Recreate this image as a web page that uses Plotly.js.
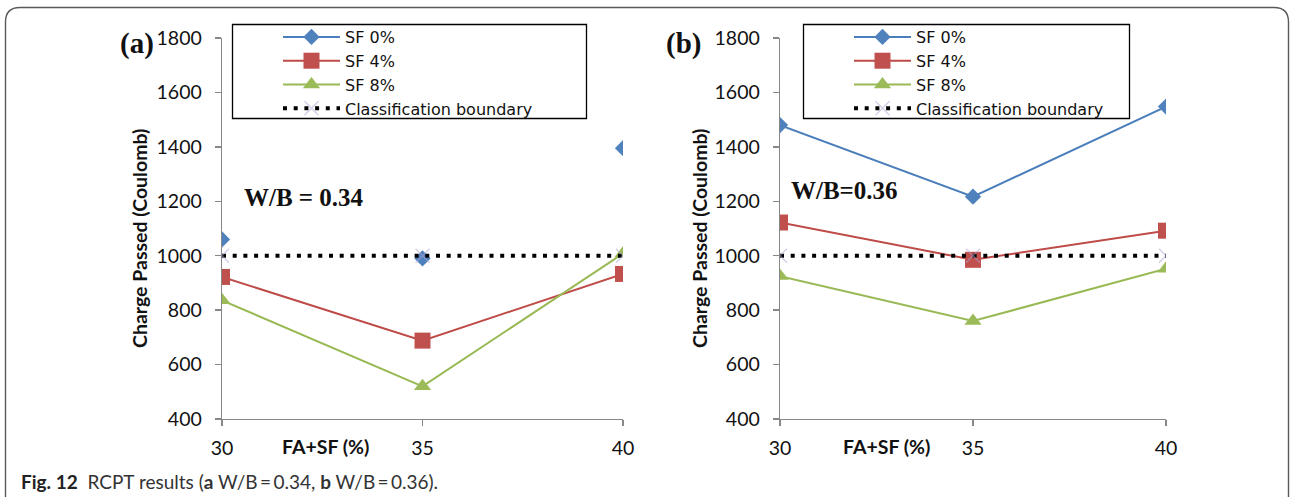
<!DOCTYPE html>
<html><head><meta charset="utf-8">
<script src="https://cdn.plot.ly/plotly-3.0.1.min.js"></script>
<style>html,body{margin:0;padding:0;background:#fff;overflow:hidden}</style>
</head><body><div id="chart" style="width:1290px;height:497px"></div>
<script>
// ---- data ----
const faSf = [30, 35, 40];                 // FA+SF (%)
const aSF0 = [1060, 990, 1395];            // (a) W/B = 0.34
const aSF4 = [922, 688, 933];
const aSF8 = [836, 520, 1008];
const bSF0 = [1480, 1217, 1548];           // (b) W/B = 0.36
const bSF4 = [1122, 985, 1092];
const bSF8 = [925, 760, 952];
const boundary = [1000, 1000, 1000];       // classification boundary
const seriesNames = ['SF 0%', 'SF 4%', 'SF 8%', 'Classification boundary'];
const yTickVals = [400, 600, 800, 1000, 1200, 1400, 1600, 1800];
const xTickVals = [30, 35, 40];

// ---- figure geometry helpers (pixel -> paper) ----
const W = 1290, H = 497;
const px = v => v / W;
const py = v => 1 - v / H;

const colors = {
  sf0: '#4A7EBB', sf0m: '#4F81BD',
  sf4: '#BE4B48', sf4m: '#C0504D',
  sf8: '#98B954', sf8m: '#9BBB59'
};
const mk = {
  sf0: {symbol: 'diamond', size: 12.5, color: colors.sf0m},
  sf4: {symbol: 'square', size: 16, color: colors.sf4m},
  sf8: {symbol: 'triangle-up', size: 15, color: colors.sf8m},
  bd: {symbol: 'x-thin', size: 14, color: 'rgba(175,165,215,0.55)', line: {width: 1.3, color: 'rgba(175,165,215,0.55)'}}
};

function panel(xa, ya, leg, d0, d4, d8, sf0Lines) {
  const out = [];
  if (sf0Lines) {
    out.push({x: faSf, y: d0, name: seriesNames[0], mode: 'lines+markers', xaxis: xa, yaxis: ya, legend: leg,
      line: {color: colors.sf0, width: 2}, marker: mk.sf0});
  } else {
    out.push({x: faSf, y: d0, name: seriesNames[0], mode: 'markers', xaxis: xa, yaxis: ya, legend: leg,
      marker: mk.sf0, showlegend: false, legendgroup: leg + 'sf0'});
    out.push({x: [null], y: [null], name: seriesNames[0], mode: 'lines+markers', xaxis: xa, yaxis: ya, legend: leg,
      line: {color: colors.sf0, width: 2}, marker: mk.sf0, legendgroup: leg + 'sf0'});
  }
  out.push({x: faSf, y: d4, name: seriesNames[1], mode: 'lines+markers', xaxis: xa, yaxis: ya, legend: leg,
    line: {color: colors.sf4, width: 2}, marker: mk.sf4});
  out.push({x: faSf, y: d8, name: seriesNames[2], mode: 'lines+markers', xaxis: xa, yaxis: ya, legend: leg,
    line: {color: colors.sf8, width: 2}, marker: mk.sf8});
  out.push({x: faSf, y: boundary, name: seriesNames[3], mode: 'lines+markers', xaxis: xa, yaxis: ya, legend: leg,
    line: {color: '#000', width: 4, dash: '4px,6.7px'}, marker: mk.bd});
  return out;
}

const traces = [].concat(
  panel('x', 'y', 'legend', aSF0, aSF4, aSF8, false),
  panel('x2', 'y2', 'legend2', bSF0, bSF4, bSF8, true)
);

const tickFont = {family: 'Lato, "Open Sans", sans-serif', size: 19.5, color: '#111'};
function xAxis(d0, d1, anchor) {
  return {domain: [px(d0), px(d1)], anchor: anchor, range: [30, 40], tickvals: xTickVals,
    showgrid: false, zeroline: false, showline: true, linecolor: '#878787', linewidth: 1.3,
    ticks: 'outside', ticklen: 6, tickcolor: '#878787', tickwidth: 1.3,
    tickfont: tickFont, ticklabelstandoff: 5, fixedrange: true};
}
function yAxis(anchor) {
  return {domain: [py(419), py(38)], anchor: anchor, range: [400, 1800], tickvals: yTickVals,
    showgrid: false, zeroline: false, showline: true, linecolor: '#878787', linewidth: 1.3,
    ticks: 'outside', ticklen: 6, tickcolor: '#878787', tickwidth: 1.3,
    tickfont: tickFont, ticklabelstandoff: 9, fixedrange: true};
}

const legendBase = {
  yanchor: 'top', xanchor: 'left', bgcolor: 'rgba(0,0,0,0)', borderwidth: 0,
  font: {family: '"DejaVu Sans", "Open Sans", sans-serif', size: 16, color: '#111'},
  itemwidth: 57, tracegroupgap: 0, itemclick: false, itemdoubleclick: false
};

const serifBold = {family: '"Liberation Serif", "Times New Roman", serif', color: '#111'};
const titleFont = {family: 'Lato, "Open Sans", sans-serif', size: 19.5, color: '#111', weight: 'bold'};
const capFont = {family: 'Lato, "Open Sans", sans-serif', size: 19, color: '#333'};

function ann(text, x, y, font, extra) {
  return Object.assign({text: text, x: px(x), y: py(y), xref: 'paper', yref: 'paper',
    showarrow: false, font: font, xanchor: 'center', yanchor: 'middle'}, extra || {});
}

const annotations = [
  ann('<b>(a)</b>', 137, 43, Object.assign({size: 29}, serifBold)),
  ann('<b>(b)</b>', 683, 43, Object.assign({size: 29}, serifBold)),
  ann('<b>W/B = 0.34</b>', 242, 197, Object.assign({size: 25}, serifBold), {xanchor: 'left'}),
  ann('<b>W/B=0.36</b>', 789, 190, Object.assign({size: 25}, serifBold), {xanchor: 'left'}),
  ann('<b>Charge Passed (Coulomb)</b>', 140, 239, titleFont, {textangle: -90}),
  ann('<b>Charge Passed (Coulomb)</b>', 700, 239, titleFont, {textangle: -90}),
  ann('<b>FA+SF (%)</b>', 325, 446, titleFont),
  ann('<b>FA+SF (%)</b>', 887, 446, titleFont),
  ann('<b style="color:#222">Fig. 12</b>  RCPT results (<b>a</b> W/B\u2009=\u20090.34, <b>b</b> W/B\u2009=\u20090.36).', 19, 481, capFont, {xanchor: 'left'})
];

const frame = 'M' + px(5.5) + ',' + py(497) + ' L' + px(5.5) + ',' + py(22) +
  ' Q' + px(5.5) + ',' + py(7.5) + ' ' + px(20) + ',' + py(7.5) +
  ' L' + px(1274) + ',' + py(7.5) +
  ' Q' + px(1288.5) + ',' + py(7.5) + ' ' + px(1288.5) + ',' + py(22) +
  ' L' + px(1288.5) + ',' + py(497);

const shapes = [
  {type: 'path', xref: 'paper', yref: 'paper', path: frame, line: {color: '#5a5a5a', width: 1.4}},
  {type: 'rect', xref: 'paper', yref: 'paper', x0: px(232.5), x1: px(586.5), y0: py(24.5), y1: py(118.5),
    line: {color: '#000', width: 1.3}, fillcolor: 'rgba(0,0,0,0)'},
  {type: 'rect', xref: 'paper', yref: 'paper', x0: px(803.5), x1: px(1129.5), y0: py(24.5), y1: py(118.5),
    line: {color: '#000', width: 1.3}, fillcolor: 'rgba(0,0,0,0)'}
];

const layout = {
  width: W, height: H, margin: {l: 0, r: 0, t: 0, b: 0},
  paper_bgcolor: '#fff', plot_bgcolor: 'rgba(0,0,0,0)',
  xaxis: xAxis(222, 623, 'y'), yaxis: yAxis('x'),
  xaxis2: xAxis(780, 1166, 'y2'), yaxis2: yAxis('x2'),
  legend: Object.assign({x: px(278), y: py(20)}, legendBase),
  legend2: Object.assign({x: px(849), y: py(20)}, legendBase),
  annotations: annotations, shapes: shapes, hovermode: false
};

Plotly.newPlot('chart', traces, layout, {displayModeBar: false, staticPlot: true});
</script></body></html>
